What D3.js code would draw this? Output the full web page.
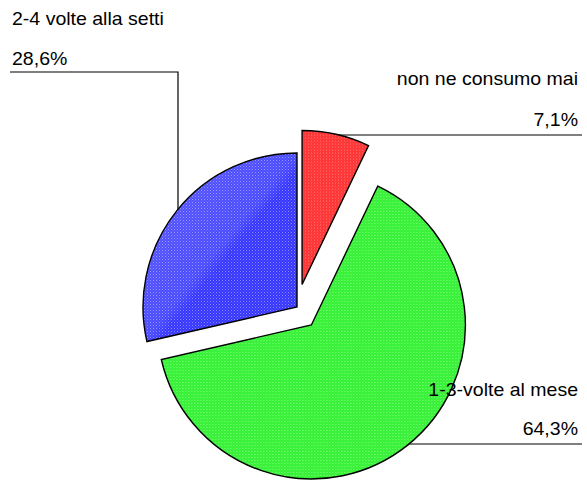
<!DOCTYPE html>
<html>
<head>
<meta charset="utf-8">
<script src="https://cdn.jsdelivr.net/npm/d3@7"></script>
<style>
  html, body { margin: 0; padding: 0; background: #fff; }
  text { font-family: "Liberation Sans", Arial, sans-serif; fill: #000; }
</style>
</head>
<body>
<svg id="chart" width="587" height="482"></svg>
<script>
// Consumption frequency shares (%)
const categories = ["non ne consumo mai", "1-3-volte al mese", "2-4 volte alla setti"];
const values = [7.1, 64.3, 28.6];
const valueLabels = ["7,1%", "64,3%", "28,6%"];

const svg = d3.select("#chart");
const cx = 297, cy = 307, R = 154;
const explode = [23, 23, 0];

const fills = [
  { base: "#ff2e2e", dot: "#ff8a8a", id: "pRed" },
  { base: "#30f030", dot: "#90ff90", id: "pGreen" },
  { base: "#3636ff", dot: "#8a8aff", id: "pBlue" }
];

// dithered textures for the slices
const defs = svg.append("defs");
fills.forEach(f => {
  const p = defs.append("pattern").attr("id", f.id)
    .attr("width", 3).attr("height", 3).attr("patternUnits", "userSpaceOnUse");
  p.append("rect").attr("width", 3).attr("height", 3).attr("fill", f.base);
  p.append("rect").attr("x", 0).attr("y", 0).attr("width", 1).attr("height", 1).attr("fill", f.dot);
  p.append("rect").attr("x", 1.5).attr("y", 1.5).attr("width", 1).attr("height", 1).attr("fill", f.dot).attr("opacity", 0.6);
});
// soft sheen across the blue slice
const g = defs.append("linearGradient").attr("id", "sheen")
  .attr("x1", "0").attr("y1", "0").attr("x2", "1").attr("y2", "1");
g.append("stop").attr("offset", "0").attr("stop-color", "#fff").attr("stop-opacity", 0.18);
g.append("stop").attr("offset", "0.5").attr("stop-color", "#fff").attr("stop-opacity", 0.1);
g.append("stop").attr("offset", "0.55").attr("stop-color", "#fff").attr("stop-opacity", 0);

const pie = d3.pie().sort(null).startAngle(0).endAngle(2 * Math.PI)(values);
const arc = d3.arc().innerRadius(0).outerRadius(R);

const centers = pie.map((d, i) => {
  const mid = (d.startAngle + d.endAngle) / 2;
  return [cx + explode[i] * Math.sin(mid), cy - explode[i] * Math.cos(mid)];
});

const slices = svg.append("g");
pie.forEach((d, i) => {
  const s = slices.append("g").attr("transform", `translate(${centers[i][0]},${centers[i][1]})`);
  s.append("path").attr("d", arc(d)).attr("fill", `url(#${fills[i].id})`);
  if (i === 2) s.append("path").attr("d", arc(d)).attr("fill", "url(#sheen)");
  s.append("path").attr("d", arc(d)).attr("fill", "none")
    .attr("stroke", "#000").attr("stroke-width", 1.4).attr("stroke-linejoin", "miter");
});

// leader lines
const lines = svg.append("g").attr("stroke", "#000").attr("stroke-width", 1.2).attr("fill", "none");
// red: horizontal at y=135 to its arc
{
  const [sx, sy] = centers[0], y = 135;
  const x = sx + Math.sqrt(R * R - (y - sy) * (y - sy));
  lines.append("path").attr("d", `M${x},${y}H582`);
}
// green: horizontal at y=444 to its arc
{
  const [sx, sy] = centers[1], y = 444;
  const x = sx + Math.sqrt(R * R - (y - sy) * (y - sy));
  lines.append("path").attr("d", `M${x},${y}H582`);
}
// blue: elbow from label down to its arc
{
  const [sx, sy] = centers[2], x = 178;
  const y = sy - Math.sqrt(R * R - (x - sx) * (x - sx));
  lines.append("path").attr("d", `M10,72H${x}V${y}`);
}

// labels (slightly widened glyphs)
const fs = 18, sx = 1.085;
const lab = svg.append("g").style("font-size", fs + "px");
function label(x, y, anchor, t) {
  lab.append("text").attr("transform", `translate(${x},${y}) scale(${sx},1)`)
    .attr("text-anchor", anchor).text(t);
}
label(578, 85, "end", categories[0]);
label(578, 126, "end", valueLabels[0]);
label(578, 396, "end", categories[1]);
label(578, 435, "end", valueLabels[1]);
label(12, 25, "start", categories[2]);
label(12, 65, "start", valueLabels[2]);
</script>
</body>
</html>
